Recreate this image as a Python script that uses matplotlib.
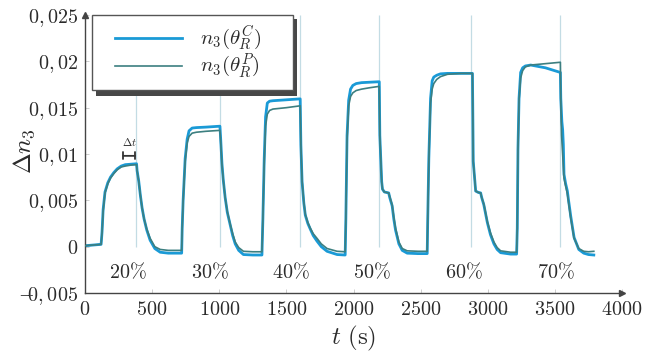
import numpy as np
import matplotlib
matplotlib.use("Agg")
import matplotlib.pyplot as plt
from matplotlib.patches import Rectangle
from matplotlib.lines import Line2D

plt.rcParams['font.family'] = ['DejaVu Serif']
plt.rcParams['mathtext.fontset'] = 'cm'

# --- data (delta n3 in units of 1e-3) ---
t_p = [0, 120, 127, 135, 149, 170, 190, 215, 240, 270, 300, 340, 384,
       388, 400, 412, 425, 440, 460, 485, 520, 560, 620, 720,
       724, 731, 746, 761, 775, 798, 830, 900, 1005,
       1010, 1020, 1030, 1044, 1060, 1082, 1100, 1119, 1145, 1180, 1250, 1318,
       1325, 1335, 1345, 1358, 1375, 1400, 1500, 1603,
       1608, 1617, 1630, 1641, 1660, 1678, 1700, 1728, 1760, 1803, 1878, 1938,
       1943, 1952, 1964, 1978, 1995, 2020, 2060, 2120, 2192,
       2196, 2210, 2216, 2230, 2262, 2270, 2288, 2300, 2313, 2338, 2363, 2400, 2480, 2549,
       2553, 2561, 2574, 2586, 2598, 2620, 2648, 2700, 2800, 2886,
       2889, 2892, 2910, 2930, 2947, 2955, 2971, 2997, 3020, 3046, 3070, 3096, 3170, 3215,
       3220, 3225, 3233, 3245, 3260, 3280, 3320, 3430, 3541,
       3544, 3550, 3568, 3593, 3618, 3643, 3678, 3715, 3750, 3790]
n_p = [0.1, 0.25, 1.5, 3.8, 5.8, 6.8, 7.4, 7.9, 8.3, 8.6, 8.7, 8.8, 8.85,
       8.2, 7.1, 5.6, 4.2, 3.0, 1.9, 0.9, 0.0, -0.3, -0.4, -0.4,
       2.0, 4.9, 9.2, 11.2, 11.9, 12.25, 12.35, 12.45, 12.55,
       11.5, 8.9, 7.2, 5.3, 3.8, 2.4, 1.4, 0.5, -0.1, -0.5, -0.55, -0.55,
       3.0, 9.0, 13.0, 14.3, 14.7, 14.85, 15.0, 15.2,
       11.0, 7.1, 4.8, 3.5, 2.6, 2.0, 1.4, 0.9, 0.3, -0.2, -0.5, -0.55,
       3.0, 11.5, 15.2, 16.2, 16.6, 16.85, 17.0, 17.15, 17.3,
       12.0, 7.0, 6.2, 5.9, 5.8, 5.4, 4.5, 3.2, 2.0, 0.5, -0.2, -0.45, -0.5, -0.5,
       3.0, 9.2, 15.5, 17.0, 17.6, 18.05, 18.35, 18.6, 18.7, 18.7,
       14.0, 9.2, 6.0, 5.85, 5.8, 5.3, 4.6, 2.7, 1.5, 0.5, -0.1, -0.45, -0.6, -0.6,
       2.0, 10.3, 15.8, 18.2, 19.0, 19.4, 19.6, 19.75, 19.9,
       15.8, 12.0, 7.4, 5.7, 3.1, 0.9, -0.2, -0.5, -0.55, -0.5]

t_c = [0, 120, 127, 135, 149, 170, 190, 215, 240, 270, 300, 340, 384,
       388, 400, 412, 425, 440, 460, 485, 520, 560, 620, 720,
       724, 731, 746, 761, 775, 798, 830, 900, 1005,
       1010, 1020, 1030, 1044, 1060, 1082, 1100, 1119, 1145, 1180, 1250, 1318,
       1325, 1335, 1345, 1358, 1375, 1400, 1500, 1603,
       1608, 1617, 1630, 1641, 1660, 1678, 1700, 1728, 1760, 1803, 1878, 1938,
       1943, 1952, 1964, 1978, 1995, 2020, 2060, 2120, 2192,
       2196, 2210, 2216, 2230, 2262, 2270, 2288, 2300, 2313, 2338, 2363, 2400, 2480, 2549,
       2553, 2561, 2574, 2586, 2598, 2620, 2648, 2700, 2800, 2886,
       2889, 2892, 2910, 2930, 2947, 2955, 2971, 2997, 3020, 3046, 3070, 3096, 3170, 3215,
       3220, 3225, 3233, 3245, 3260, 3280, 3320, 3430, 3541,
       3544, 3552, 3558, 3563, 3568, 3580, 3593, 3600, 3618, 3643, 3678, 3715, 3750, 3790]
n_c = [0.1, 0.25, 1.6, 4.0, 5.9, 6.9, 7.5, 8.0, 8.4, 8.7, 8.85, 8.9, 8.95,
       8.2, 7.1, 5.6, 4.2, 3.0, 1.8, 0.7, -0.2, -0.6, -0.7, -0.7,
       2.0, 5.0, 9.5, 11.6, 12.5, 12.8, 12.85, 12.9, 13.0,
       11.8, 9.0, 7.2, 5.3, 3.7, 2.3, 1.2, 0.3, -0.4, -0.85, -0.9, -0.9,
       3.0, 9.5, 14.0, 15.5, 15.7, 15.75, 15.85, 15.95,
       11.0, 7.0, 4.7, 3.4, 2.5, 1.9, 1.2, 0.6, 0.0, -0.5, -0.85, -0.9,
       3.0, 12.0, 15.8, 17.0, 17.4, 17.6, 17.7, 17.75, 17.8,
       12.0, 7.0, 6.2, 5.9, 5.8, 5.3, 4.4, 3.0, 1.8, 0.3, -0.4, -0.7, -0.75, -0.75,
       3.0, 9.5, 16.0, 17.9, 18.3, 18.5, 18.65, 18.7, 18.7, 18.7,
       14.0, 9.2, 6.0, 5.85, 5.8, 5.3, 4.5, 2.6, 1.3, 0.3, -0.3, -0.65, -0.8, -0.8,
       2.0, 10.5, 16.0, 18.8, 19.3, 19.5, 19.6, 19.3, 18.8,
       16.0, 13.5, 12.6, 11.0, 7.8, 6.8, 6.0, 5.2, 3.3, 1.0, -0.3, -0.7, -0.85, -0.9]

# vertical guide lines, concentration labels and their positions
t_marks = [380, 1005, 1605, 2190, 2875, 3535]
pct_labels = ['20%', '30%', '40%', '50%', '60%', '70%']
pct_t = [321, 933, 1530, 2139, 2821, 3506]
pct_y = -0.0027

x_ticks = [0, 500, 1000, 1500, 2000, 2500, 3000, 3500, 4000]
y_ticks = [-0.005, 0, 0.005, 0.01, 0.015, 0.02, 0.025]
y_ticklabels = [r'$-\!\!0,005$', '$0$', '$0,005$', '$0,01$', '$0,015$', '$0,02$', '$0,025$']
legend_labels = [r'$n_3(\theta_R^C)$', r'$n_3(\theta_R^P)$']

c_cyan = '#1a9ad6'
c_green = '#3c7f80'
c_text = '#2b2b2b'
fs = 14.5

W, H = 646, 353
fig = plt.figure(figsize=(W / 100, H / 100), dpi=100)
ax = fig.add_axes([85 / W, 1 - 293 / H, (622 - 85) / W, (293 - 15) / H])

ax.vlines(t_marks, 0, 0.025, colors='#c3dce4', lw=0.9, zorder=1)

ax.plot(t_c, np.array(n_c) * 1e-3, color=c_cyan, lw=2.0, zorder=2)
ax.plot(t_p, np.array(n_p) * 1e-3, color=c_green, lw=1.2, zorder=3)

for s, t in zip(pct_labels, pct_t):
    ax.text(t, pct_y, '$' + s.replace('%', r'\%') + '$', ha='center', va='center',
            fontsize=fs, color=c_text)

# delta t marker above the first plateau
ax.annotate('', xy=(285, 0.0098), xytext=(373, 0.0098),
            arrowprops=dict(arrowstyle='|-|,widthA=0.25,widthB=0.25', lw=1.3,
                            color='#333333', shrinkA=0, shrinkB=0))
ax.text(329, 0.01125, r'$\Delta t$', ha='center', va='center', fontsize=8, color=c_text)

ax.set_xlim(0, 4000)
ax.set_ylim(-0.005, 0.025)
ax.set_xticks(x_ticks)
ax.set_xticklabels(['$%d$' % v for v in x_ticks])
ax.set_yticks(y_ticks)
ax.set_yticklabels(y_ticklabels)
ax.tick_params(direction='in', length=3, width=0.5, color='#bbbbbb',
               labelsize=fs, labelcolor=c_text)
ax.tick_params(axis='x', pad=5)
ax.tick_params(axis='y', pad=5)

for side in ['top', 'right']:
    ax.spines[side].set_visible(False)
for side in ['left', 'bottom']:
    ax.spines[side].set_color('#444444')
    ax.spines[side].set_linewidth(1.0)
ax.plot(1, 0, '>', color='#444444', ms=4, transform=ax.transAxes, clip_on=False)
ax.plot(0, 1, '^', color='#444444', ms=4, transform=ax.transAxes, clip_on=False)

fig.text(24 / W, 1 - 151 / H, r'$\Delta n_3$', rotation=90, ha='center', va='center',
         fontsize=18, color=c_text)
fig.text(354 / W, 1 - 338 / H, r'$t\ (\mathrm{s})$', ha='center', va='center',
         fontsize=18, color=c_text)

# legend box drawn in figure pixels: shadow, frame, sample lines, labels
def px(x, y):
    return x / W, 1 - y / H

fig.patches.append(Rectangle(px(96, 96), (297 - 96) / W, (96 - 19) / H,
                             transform=fig.transFigure, facecolor='#474747',
                             edgecolor='none', zorder=10))
fig.patches.append(Rectangle(px(92, 90), (293 - 92) / W, (90 - 15) / H,
                             transform=fig.transFigure, facecolor='white',
                             edgecolor='#555555', lw=1.0, zorder=11))
for (yy, col, lw, lab) in [(37.7, c_cyan, 2.0, legend_labels[0]),
                           (65.7, c_green, 1.2, legend_labels[1])]:
    x0, y0 = px(115, yy)
    x1, _ = px(182, yy)
    fig.lines.append(Line2D([x0, x1], [y0, y0], color=col, lw=lw,
                            transform=fig.transFigure, zorder=12))
    fig.text(200 / W, y0, lab, ha='left', va='center', fontsize=15,
             color=c_text, zorder=12)

fig.savefig('out.png', dpi=100)
